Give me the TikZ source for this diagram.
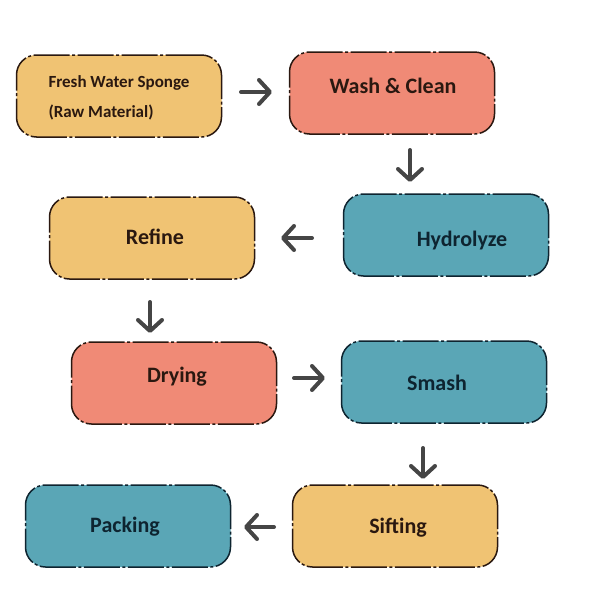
\documentclass[tikz,border=0pt]{standalone}
\usepackage{fontspec}
\setmainfont{Carlito}
\usetikzlibrary{arrows.meta}

\definecolor{boxyellow}{HTML}{F0C373}
\definecolor{boxsalmon}{HTML}{F08A76}
\definecolor{boxteal}{HTML}{5AA6B6}
\definecolor{inkbrown}{HTML}{2A1810}
\definecolor{inknavy}{HTML}{0E2430}
\definecolor{arrowgray}{HTML}{454545}

\tikzset{
  stepbox/.style={draw, rounded corners=20pt, line width=1.5pt,
    dash pattern=on 36pt off 2.5pt on 3pt off 2.5pt,
    minimum width=205pt, minimum height=82pt, inner sep=0pt},
  yellowbox/.style={stepbox, fill=boxyellow, draw=inkbrown},
  salmonbox/.style={stepbox, fill=boxsalmon, draw=inkbrown},
  tealbox/.style={stepbox, fill=boxteal, draw=inknavy},
  steptext/.style={font=\fontsize{22}{26}\selectfont\bfseries, text=inkbrown},
  flow/.style={arrowgray, line width=4pt, line cap=round,
    -{Straight Barb[length=11pt, width=24pt, line cap=round, line join=round]}}
}

\begin{document}
\begin{tikzpicture}[x=1pt, y=-1pt]
				\useasboundingbox (0,0) rectangle (600,600);
				
				% boxes
				\node[yellowbox] (fresh) at (119,96) {};
				\node[salmonbox] (wash) at (392,93) {};
				\node[tealbox] (hydro) at (446,235) {};
				\node[yellowbox] (refine) at (152,238) {};
				\node[salmonbox] (drying) at (174,383) {};
				\node[tealbox] (smash) at (444,382) {};
				\node[yellowbox] (sifting) at (395,526) {};
				\node[tealbox] (packing) at (128,526) {};
				
				% texts
				\node[steptext, anchor=west, align=left, font=\fontsize{17}{30}\selectfont\bfseries] (freshtxt) at (45,98) {Fresh Water Sponge\\(Raw Material)};
				\node[steptext] (washtxt) at (393,86) {Wash \& Clean};
				\node[steptext, text=inknavy] (hydrotxt) at (462,241) {Hydrolyze};
				\node[steptext] (refinetxt) at (155,237) {Refine};
				\node[steptext] (dryingtxt) at (177,377) {Drying};
				\node[steptext, text=inknavy] (smashtxt) at (437,383) {Smash};
				\node[steptext] (siftingtxt) at (398,528) {Sifting};
				\node[steptext, text=inknavy] (packingtxt) at (125,527) {Packing};
				
				% arrow ends
				\coordinate (A1s) at (241,92);
				\coordinate (A1e) at (272,92);
				\coordinate (A2s) at (410,150);
				\coordinate (A2e) at (410,182);
				\coordinate (A3s) at (312,238);
				\coordinate (A3e) at (281,238);
				\coordinate (A4s) at (150,302);
				\coordinate (A4e) at (150,333);
				\coordinate (A5s) at (294,378);
				\coordinate (A5e) at (325,378);
				\coordinate (A6s) at (423,448);
				\coordinate (A6e) at (423,479);
				\coordinate (A7s) at (274,527);
				\coordinate (A7e) at (244,527);
				
				\draw[flow] (A1s) -- (A1e);
				\draw[flow] (A2s) -- (A2e);
				\draw[flow] (A3s) -- (A3e);
				\draw[flow] (A4s) -- (A4e);
				\draw[flow] (A5s) -- (A5e);
				\draw[flow] (A6s) -- (A6e);
				\draw[flow] (A7s) -- (A7e);
				
			\end{tikzpicture}
\end{document}
